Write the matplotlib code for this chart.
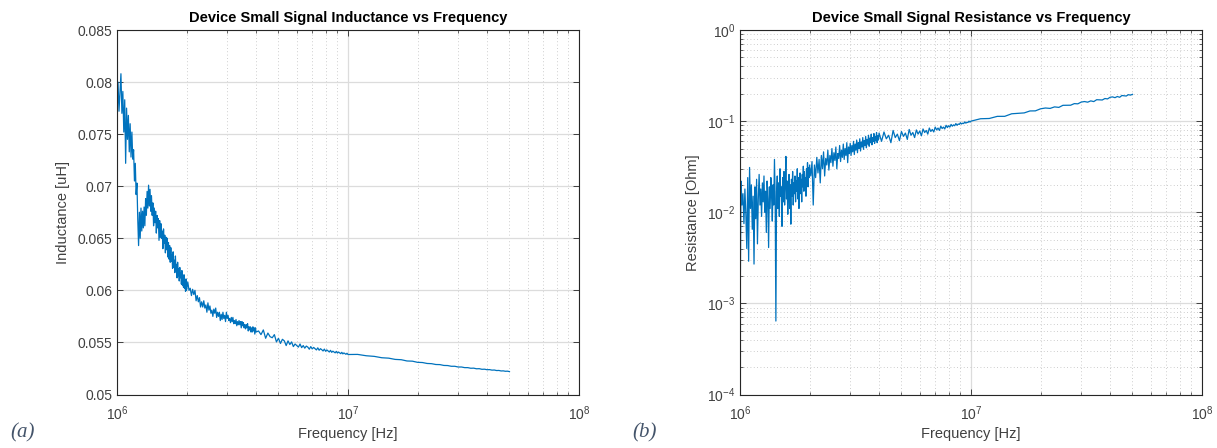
import numpy as np
import matplotlib
matplotlib.use('Agg')
import matplotlib.pyplot as plt
from matplotlib.ticker import FuncFormatter, NullLocator, LogLocator

plt.rcParams['font.family'] = ['Liberation Sans', 'DejaVu Sans']
plt.rcParams['mathtext.default'] = 'regular'
plt.rcParams['axes.unicode_minus'] = False

#
# Sweep frequencies (MHz), shared by both measurements
#
freq_a = [1.00, 1.01, 1.02, 1.03, 1.04, 1.05, 1.06, 1.07, 1.08, 1.09,
          1.10, 1.11, 1.12, 1.13, 1.14, 1.15, 1.16, 1.17, 1.18, 1.19,
          1.20, 1.21, 1.22, 1.23, 1.24, 1.25, 1.26, 1.27, 1.28, 1.29,
          1.30, 1.31, 1.32, 1.33, 1.34, 1.35, 1.36, 1.37, 1.38, 1.39,
          1.40, 1.41, 1.42, 1.43, 1.44, 1.45, 1.46, 1.47, 1.48, 1.49,
          1.50, 1.51, 1.52, 1.53, 1.54, 1.55, 1.56, 1.57, 1.58, 1.59,
          1.60, 1.61, 1.62, 1.63, 1.64, 1.65, 1.66, 1.67, 1.68, 1.69,
          1.70, 1.71, 1.72, 1.73, 1.74, 1.75, 1.76, 1.77, 1.78, 1.79,
          1.80, 1.81, 1.82, 1.83, 1.84, 1.85, 1.86, 1.87, 1.88, 1.89,
          1.90, 1.91, 1.92, 1.93, 1.94, 1.95, 1.96, 1.97, 1.98, 1.99,
          2.00]
freq_b = [2.025, 2.050, 2.075, 2.100, 2.125, 2.150, 2.175, 2.200, 2.225, 2.250,
          2.275, 2.300, 2.325, 2.350, 2.375, 2.400, 2.425, 2.450, 2.475, 2.500,
          2.525, 2.550, 2.575, 2.600, 2.625, 2.650, 2.675, 2.700, 2.725, 2.750,
          2.775, 2.800, 2.825, 2.850, 2.875, 2.900, 2.925, 2.950, 2.975, 3.000,
          3.025, 3.050, 3.075, 3.100, 3.125, 3.150, 3.175, 3.200, 3.225, 3.250,
          3.275, 3.300, 3.325, 3.350, 3.375, 3.400, 3.425, 3.450, 3.475, 3.500,
          3.525, 3.550, 3.575, 3.600, 3.625, 3.650, 3.675, 3.700, 3.725, 3.750,
          3.775, 3.800, 3.825, 3.850, 3.875, 3.900, 3.925, 3.950, 3.975, 4.000]
freq_c = [4.1, 4.2, 4.3, 4.4, 4.5, 4.6, 4.7, 4.8, 4.9, 5.0,
          5.1, 5.2, 5.3, 5.4, 5.5, 5.6, 5.7, 5.8, 5.9, 6.0,
          6.1, 6.2, 6.3, 6.4, 6.5, 6.6, 6.7, 6.8, 6.9, 7.0,
          7.1, 7.2, 7.3, 7.4, 7.5, 7.6, 7.7, 7.8, 7.9, 8.0,
          8.1, 8.2, 8.3, 8.4, 8.5, 8.6, 8.7, 8.8, 8.9, 9.0,
          9.1, 9.2, 9.3, 9.4, 9.5, 9.6, 9.7, 9.8, 9.9, 10.0]
freq_d = [11, 12, 13, 14, 15, 16, 17, 18, 19, 20,
          21, 22, 23, 24, 25, 26, 27, 28, 29, 30,
          31, 32, 33, 34, 35, 36, 37, 38, 39, 40,
          41, 42, 43, 44, 45, 46, 47, 48, 49, 50]

#
# Small signal inductance (uH)
#
ind_a = [0.0765, 0.0800, 0.0772, 0.0790, 0.0808, 0.0770, 0.0791, 0.0752, 0.0783, 0.0722,
         0.0775, 0.0745, 0.0768, 0.0733, 0.0760, 0.0728, 0.0752, 0.0726, 0.0735, 0.0705,
         0.0722, 0.0692, 0.0703, 0.0668, 0.0643, 0.0675, 0.0650, 0.0679, 0.0657, 0.0676,
         0.0660, 0.0680, 0.0662, 0.0688, 0.0672, 0.0695, 0.0679, 0.0701, 0.0681, 0.0697,
         0.0676, 0.0691, 0.0672, 0.0684, 0.0662, 0.0679, 0.0665, 0.0676, 0.0655, 0.0672,
         0.0660, 0.0669, 0.0648, 0.0667, 0.0651, 0.0664, 0.0650, 0.0657, 0.0640, 0.0659,
         0.0645, 0.0653, 0.0636, 0.0651, 0.0639, 0.0650, 0.0632, 0.0646, 0.0630, 0.0643,
         0.0627, 0.0641, 0.0628, 0.0634, 0.0621, 0.0637, 0.0622, 0.0629, 0.0617, 0.0633,
         0.0619, 0.0625, 0.0612, 0.0627, 0.0614, 0.0621, 0.0609, 0.0622, 0.0612, 0.0617,
         0.0606, 0.0619, 0.0605, 0.0614, 0.0603, 0.0615, 0.0602, 0.0610, 0.0599, 0.0611,
         0.0600]
ind_b = [0.0608, 0.0600, 0.0602, 0.0595, 0.0601, 0.0596, 0.0600, 0.0590, 0.0595, 0.0589,
         0.0593, 0.0584, 0.0589, 0.0584, 0.0590, 0.0583, 0.0586, 0.0579, 0.0588, 0.0581,
         0.0585, 0.0578, 0.0581, 0.0575, 0.0582, 0.0578, 0.0583, 0.0574, 0.0579, 0.0575,
         0.0579, 0.0571, 0.0577, 0.0572, 0.0579, 0.0573, 0.0576, 0.0570, 0.0579, 0.0573,
         0.0576, 0.0571, 0.0573, 0.0569, 0.0574, 0.0570, 0.0574, 0.0568, 0.0571, 0.0568,
         0.0572, 0.0566, 0.0570, 0.0567, 0.0571, 0.0567, 0.0570, 0.0564, 0.0570, 0.0566,
         0.0569, 0.0564, 0.0567, 0.0563, 0.0567, 0.0564, 0.0568, 0.0561, 0.0565, 0.0562,
         0.0565, 0.0560, 0.0564, 0.0560, 0.0565, 0.0561, 0.0564, 0.0558, 0.0564, 0.0560]
ind_c = [0.05610, 0.05575, 0.05620, 0.05540, 0.05590, 0.05555, 0.05545, 0.05575, 0.05505, 0.05540,
         0.05490, 0.05530, 0.05515, 0.05470, 0.05515, 0.05480, 0.05505, 0.05460, 0.05485, 0.05470,
         0.05455, 0.05485, 0.05450, 0.05470, 0.05445, 0.05465, 0.05455, 0.05435, 0.05460, 0.05438,
         0.05452, 0.05440, 0.05428, 0.05448, 0.05425, 0.05440, 0.05430, 0.05418, 0.05436, 0.05415,
         0.05428, 0.05418, 0.05408, 0.05424, 0.05405, 0.05416, 0.05408, 0.05400, 0.05414, 0.05398,
         0.05408, 0.05400, 0.05392, 0.05405, 0.05390, 0.05399, 0.05392, 0.05386, 0.05396, 0.05384]
ind_d = [0.05385, 0.05372, 0.05366, 0.05353, 0.05349, 0.05337, 0.05334, 0.05322, 0.05320, 0.05309,
         0.05307, 0.05298, 0.05296, 0.05288, 0.05287, 0.05279, 0.05278, 0.05271, 0.05271, 0.05264,
         0.05264, 0.05258, 0.05258, 0.05252, 0.05253, 0.05247, 0.05248, 0.05242, 0.05243, 0.05238,
         0.05239, 0.05234, 0.05235, 0.05230, 0.05231, 0.05226, 0.05227, 0.05223, 0.05224, 0.05220]

#
# Small signal resistance (Ohm)
#
res_a = [0.0005, 0.0220, 0.0120, 0.0160, 0.0075, 0.0180, 0.0095, 0.0040, 0.0240, 0.0029,
         0.0310, 0.0110, 0.0200, 0.0065, 0.0150, 0.0027, 0.0190, 0.0085, 0.0230, 0.0045,
         0.0140, 0.0260, 0.0120, 0.0180, 0.0090, 0.0210, 0.0130, 0.0250, 0.0100, 0.0170,
         0.0060, 0.0220, 0.0140, 0.0041, 0.0190, 0.0110, 0.0240, 0.0150, 0.0080, 0.0200,
         0.0120, 0.0380, 0.0140, 0.00064, 0.0170, 0.0250, 0.0110, 0.0210, 0.0090, 0.0300,
         0.0150, 0.0190, 0.0070, 0.0240, 0.0130, 0.0280, 0.0120, 0.0200, 0.0410, 0.0140,
         0.0220, 0.0095, 0.0180, 0.0260, 0.0110, 0.0200, 0.0074, 0.0230, 0.0150, 0.0280,
         0.0120, 0.0210, 0.0160, 0.0250, 0.0130, 0.0220, 0.0170, 0.0300, 0.0140, 0.0240,
         0.0110, 0.0210, 0.0270, 0.0160, 0.0230, 0.0130, 0.0260, 0.0190, 0.0320, 0.0170,
         0.0280, 0.0200, 0.0240, 0.0150, 0.0300, 0.0220, 0.0350, 0.0190, 0.0310, 0.0240,
         0.0330]
res_b = [0.0250, 0.0360, 0.0120, 0.0330, 0.0240, 0.0400, 0.0270, 0.0380, 0.0210, 0.0420,
         0.0300, 0.0460, 0.0250, 0.0390, 0.0330, 0.0480, 0.0290, 0.0420, 0.0350, 0.0500,
         0.0320, 0.0450, 0.0370, 0.0520, 0.0300, 0.0440, 0.0390, 0.0540, 0.0360, 0.0480,
         0.0400, 0.0560, 0.0380, 0.0500, 0.0420, 0.0580, 0.0350, 0.0520, 0.0440, 0.0570,
         0.0420, 0.0540, 0.0460, 0.0600, 0.0430, 0.0560, 0.0480, 0.0620, 0.0450, 0.0580,
         0.0500, 0.0640, 0.0470, 0.0590, 0.0520, 0.0660, 0.0490, 0.0610, 0.0540, 0.0680,
         0.0510, 0.0630, 0.0560, 0.0700, 0.0530, 0.0650, 0.0580, 0.0720, 0.0550, 0.0660,
         0.0600, 0.0730, 0.0570, 0.0680, 0.0610, 0.0750, 0.0580, 0.0690, 0.0620, 0.0740]
res_c = [0.0600, 0.0760, 0.0640, 0.0700, 0.0580, 0.0790, 0.0660, 0.0720, 0.0610, 0.0770,
         0.0680, 0.0740, 0.0630, 0.0810, 0.0700, 0.0750, 0.0660, 0.0800, 0.0720, 0.0780,
         0.0690, 0.0820, 0.0750, 0.0790, 0.0720, 0.0840, 0.0770, 0.0810, 0.0760, 0.0860,
         0.0800, 0.0840, 0.0790, 0.0880, 0.0830, 0.0860, 0.0820, 0.0900, 0.0850, 0.0890,
         0.0860, 0.0920, 0.0880, 0.0910, 0.0890, 0.0940, 0.0900, 0.0930, 0.0920, 0.0960,
         0.0930, 0.0950, 0.0940, 0.0980, 0.0950, 0.0970, 0.0965, 0.1000, 0.0975, 0.1000]
res_d = [0.1062, 0.1069, 0.1128, 0.1129, 0.1204, 0.1218, 0.1231, 0.1293, 0.1296, 0.1365,
         0.1393, 0.1379, 0.1433, 0.1415, 0.1491, 0.1494, 0.1495, 0.1556, 0.1548, 0.1618,
         0.1640, 0.1614, 0.1668, 0.1639, 0.1718, 0.1712, 0.1706, 0.1770, 0.1753, 0.1826,
         0.1845, 0.1809, 0.1863, 0.1826, 0.1909, 0.1898, 0.1886, 0.1951, 0.1930, 0.1966]

ind_ticks = [0.05, 0.055, 0.06, 0.065, 0.07, 0.075, 0.08, 0.085]

LINE = '#0072BD'
TXT = '#262626'
GRID = '#dcdcdc'
MINOR = '#bdbdbd'

freq = np.array(freq_a + freq_b + freq_c + freq_d) * 1e6
ind = np.array(ind_a + ind_b + ind_c + ind_d)
res = np.array(res_a + res_b + res_c + res_d)


def matlabStyle(ax):
  for s in ax.spines.values():
    s.set_color(TXT)
    s.set_linewidth(0.8)
  ax.tick_params(which='both', direction='in', top=True, right=True,
                 colors=TXT, labelsize=10, labelcolor='#404040')
  ax.tick_params(which='major', length=4, width=0.6)
  ax.tick_params(which='minor', length=2.5, width=0.5)
  ax.tick_params(axis='x', which='major', pad=7)
  ax.grid(True, which='major', color=GRID, linewidth=0.9, linestyle='-')
  ax.grid(True, which='minor', color=MINOR, linewidth=0.6, linestyle=(0, (1, 3)))
  ax.set_axisbelow(True)
# /matlabStyle


fig = plt.figure(figsize=(12.17, 4.48), dpi=100)

#
# (a) inductance vs frequency
#
ax1 = fig.add_axes([117 / 1217, 1 - 394.5 / 448, 462 / 1217, 364.5 / 448])
ax1.plot(freq, ind, color=LINE, linewidth=0.9)
ax1.set_xscale('log')
ax1.set_xlim(1e6, 1e8)
ax1.set_ylim(0.05, 0.085)
ax1.set_yticks(ind_ticks)
ax1.yaxis.set_major_formatter(FuncFormatter(lambda v, p: '%g' % v))
ax1.yaxis.set_minor_locator(NullLocator())
matlabStyle(ax1)
ax1.set_title('Device Small Signal Inductance vs Frequency', fontsize=10.5,
              fontweight='bold', color='#000000', pad=6)
ax1.set_xlabel('Frequency [Hz]', fontsize=10.5, color='#404040', labelpad=3)
ax1.set_ylabel('Inductance [uH]', fontsize=10.5, color='#404040', labelpad=5)

#
# (b) resistance vs frequency
#
ax2 = fig.add_axes([740 / 1217, 1 - 394.5 / 448, 462 / 1217, 364.5 / 448])
ax2.plot(freq, res, color=LINE, linewidth=0.9)
ax2.set_xscale('log')
ax2.set_yscale('log')
ax2.set_xlim(1e6, 1e8)
ax2.set_ylim(1e-4, 1e0)
ax2.yaxis.set_major_locator(LogLocator(base=10, numticks=10))
ax2.yaxis.set_minor_locator(LogLocator(base=10, subs=np.arange(2, 10), numticks=20))
matlabStyle(ax2)
ax2.set_title('Device Small Signal Resistance vs Frequency', fontsize=10.5,
              fontweight='bold', color='#000000', pad=6)
ax2.set_xlabel('Frequency [Hz]', fontsize=10.5, color='#404040', labelpad=3)
ax2.set_ylabel('Resistance [Ohm]', fontsize=10.5, color='#404040', labelpad=5)

fig.text(10 / 1217, 1 - 433 / 448, '(a)', fontsize=15, style='italic',
         family='Liberation Serif', color='#44546A', va='center')
fig.text(632 / 1217, 1 - 433 / 448, '(b)', fontsize=15, style='italic',
         family='Liberation Serif', color='#44546A', va='center')

plt.savefig('out.png', dpi=100)
